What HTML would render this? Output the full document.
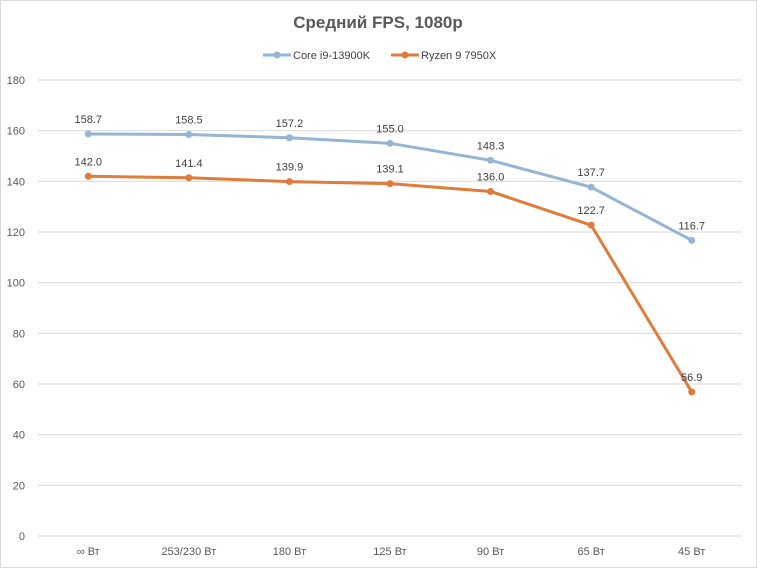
<!DOCTYPE html>
<html><head><meta charset="utf-8"><style>
body{margin:0;background:#fff;}
svg{display:block;font-family:"Liberation Sans","DejaVu Sans",sans-serif;}
</style></head><body>
<svg id="chart" width="757" height="568" viewBox="0 0 757 568">
<rect x="0.5" y="0.5" width="756" height="567" fill="#fff" stroke="#d9d9d9"/>
<text x="378" y="28" text-anchor="middle" font-size="17" font-weight="bold" fill="#595959">Средний FPS, 1080p</text>
<g>
<g>
<line x1="263" y1="55" x2="291" y2="55" stroke="#94b5d4" stroke-width="3"/><circle cx="277" cy="55" r="3.5" fill="#94b5d4"/>
<text x="293" y="59" font-size="11" fill="#404040">Core i9-13900K</text></g>
<g>
<line x1="391" y1="55" x2="419" y2="55" stroke="#e07b3c" stroke-width="3"/><circle cx="405" cy="55" r="3.5" fill="#e07b3c"/>
<text x="421" y="59" font-size="11" fill="#404040">Ryzen 9 7950X</text></g>
</g>
<g id="grid"></g><g id="axes"></g><g id="series"></g>
</svg>
<script>
const categories=["∞ Вт","253/230 Вт","180 Вт","125 Вт","90 Вт","65 Вт","45 Вт"];
const coreValues=[158.7,158.5,157.2,155.0,148.3,137.7,116.7];
const ryzenValues=[142.0,141.4,139.9,139.1,136.0,122.7,56.9];
const yTicks=[0,20,40,60,80,100,120,140,160,180];
const NS="http://www.w3.org/2000/svg";
const pLeft=38,pRight=742,pTop=80,pBottom=536,yMax=180;
const yS=v=>pBottom-(v/yMax)*(pBottom-pTop);
const bw=(pRight-pLeft)/categories.length;
const xS=i=>pLeft+bw*(i+0.5);
function mk(tag,attrs,parent,txt){const e=document.createElementNS(NS,tag);for(const k in attrs)e.setAttribute(k,attrs[k]);if(txt!==undefined)e.textContent=txt;parent.appendChild(e);return e;}
const gridG=document.getElementById('grid'),axesG=document.getElementById('axes'),serG=document.getElementById('series');
yTicks.forEach(t=>{
 const l=mk('line',{x1:pLeft,x2:pRight,y1:yS(t),y2:yS(t),stroke:'#d9d9d9','stroke-width':1},gridG);
 
 
 const tx=mk('text',{x:25,y:yS(t)+4,'text-anchor':'end','font-size':11,fill:'#595959'},axesG,String(t));
 
 
});
categories.forEach((c,i)=>{
 const tx=mk('text',{x:xS(i),y:555,'text-anchor':'middle','font-size':11,fill:'#595959'},axesG,c);
 
 
});
function drawSeries(vals,color,name){
 const g=mk('g',{},serG);
 
 
 const pl=mk('polyline',{points:vals.map((v,i)=>xS(i)+','+yS(v)).join(' '),fill:'none',stroke:color,'stroke-width':3,'stroke-linejoin':'round'},g);
 
 
 vals.forEach((v,i)=>{
  const c=mk('circle',{cx:xS(i),cy:yS(v),r:3.5,fill:color},g);
  
  
  const t=mk('text',{x:xS(i),y:yS(v)-11,'text-anchor':'middle','font-size':11,fill:'#404040'},g,v.toFixed(1));
  
  
 });
}
drawSeries(coreValues,'#94b5d4','core');
drawSeries(ryzenValues,'#e07b3c','ryzen');
</script>
</body></html>
